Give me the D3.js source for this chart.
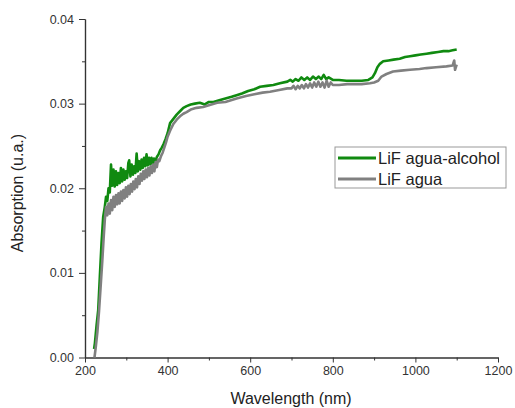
<!DOCTYPE html>
<html>
<head>
<meta charset="utf-8">
<script src="https://cdn.jsdelivr.net/npm/d3@7"></script>
<style>
  body { margin: 0; background: #fff; }
  svg { display: block; font-family: "Liberation Sans", Arial, sans-serif; }
  .axis path, .axis line { stroke: #333; }
  .axis text { fill: #333; }
</style>
</head>
<body>
<svg id="chart"></svg>
<script>
// wavelength (nm) / absorption (u.a.)
const alcoholWl = [222, 224, 228, 232, 236, 240, 244, 248, 251, 254, 257, 260, 263, 266, 269, 272, 275, 278, 281, 284,
  287, 290, 293, 296, 299, 302, 305, 307, 310, 313, 316, 319, 322, 325, 328, 331, 334, 337, 340, 343,
  346, 349, 352, 355, 358, 361, 364, 367, 370, 374, 378, 382, 386, 390, 395, 400, 406, 414, 422, 430,
  438, 446, 456, 466, 478, 490, 500, 511, 525, 540, 555, 567, 580, 595, 610, 624, 640, 656, 672, 690,
  697, 703, 710, 717, 724, 731, 738, 745, 752, 759, 766, 772, 778, 784, 790, 800, 815, 833, 850, 870,
  886, 896, 902, 908, 914, 922, 935, 947, 962, 975, 987, 1000, 1013, 1027, 1040, 1055, 1068, 1080, 1090, 1100];
const alcoholAbs = [0.0010, 0.0017, 0.0038, 0.0056, 0.0096, 0.0135, 0.0166, 0.0178, 0.0190, 0.0185, 0.0200, 0.0195, 0.0228, 0.0203, 0.0222, 0.0202, 0.0220, 0.0204, 0.0218, 0.0206,
  0.0224, 0.0208, 0.0222, 0.0210, 0.0220, 0.0212, 0.0230, 0.0233, 0.0214, 0.0228, 0.0216, 0.0226, 0.0218, 0.0241, 0.0220, 0.0232, 0.0222, 0.0234, 0.0224, 0.0236,
  0.0226, 0.0240, 0.0227, 0.0236, 0.0228, 0.0236, 0.0229, 0.0235, 0.0231, 0.0237, 0.0240, 0.0245, 0.0248, 0.0252, 0.0258, 0.0265, 0.0277, 0.0282, 0.0287, 0.0291,
  0.0295, 0.0297, 0.0299, 0.0300, 0.0301, 0.0299, 0.0302, 0.0302, 0.0304, 0.0306, 0.0308, 0.0310, 0.0312, 0.0315, 0.0317, 0.0320, 0.0321, 0.0322, 0.0324, 0.0326,
  0.0328, 0.0326, 0.0329, 0.0327, 0.0331, 0.0328, 0.0331, 0.0328, 0.0332, 0.0329, 0.0332, 0.0329, 0.0334, 0.0329, 0.0331, 0.0328, 0.0328, 0.0327, 0.0327, 0.0327,
  0.0328, 0.0331, 0.0336, 0.0343, 0.0347, 0.0350, 0.0351, 0.0352, 0.0353, 0.0355, 0.0356, 0.0357, 0.0358, 0.0359, 0.0360, 0.0361, 0.0362, 0.0362, 0.0363, 0.0364];

const aguaWl = [223, 226, 230, 234, 238, 242, 245, 248, 251, 254, 257, 260, 263, 266, 269, 272, 275, 278, 281, 284,
  287, 290, 293, 296, 299, 302, 305, 308, 311, 314, 317, 320, 323, 326, 329, 332, 335, 338, 341, 344,
  347, 350, 353, 356, 359, 362, 365, 368, 371, 374, 377, 380, 384, 388, 392, 396, 400, 406, 414, 422,
  430, 438, 446, 456, 470, 486, 500, 520, 540, 567, 590, 610, 630, 648, 670, 690, 700, 705, 710, 715,
  720, 725, 730, 735, 740, 745, 750, 755, 760, 765, 770, 775, 780, 785, 790, 795, 800, 815, 835, 850,
  870, 890, 900, 910, 918, 930, 946, 965, 987, 1010, 1027, 1050, 1075, 1090, 1094, 1096, 1100];
const aguaAbs = [0.0000, 0.0012, 0.0030, 0.0055, 0.0085, 0.0115, 0.0140, 0.0163, 0.0178, 0.0168, 0.0182, 0.0170, 0.0186, 0.0174, 0.0190, 0.0178, 0.0192, 0.0181, 0.0194, 0.0182,
  0.0196, 0.0185, 0.0198, 0.0188, 0.0201, 0.0190, 0.0203, 0.0193, 0.0205, 0.0196, 0.0208, 0.0199, 0.0211, 0.0201, 0.0214, 0.0205, 0.0217, 0.0209, 0.0220, 0.0211,
  0.0222, 0.0213, 0.0224, 0.0215, 0.0226, 0.0218, 0.0228, 0.0220, 0.0231, 0.0225, 0.0234, 0.0232, 0.0238, 0.0242, 0.0248, 0.0254, 0.0261, 0.0268, 0.0276, 0.0281,
  0.0285, 0.0288, 0.0290, 0.0293, 0.0295, 0.0296, 0.0298, 0.0301, 0.0302, 0.0306, 0.0309, 0.0311, 0.0313, 0.0314, 0.0316, 0.0318, 0.0318, 0.0321, 0.0317, 0.0321,
  0.0318, 0.0322, 0.0318, 0.0323, 0.0319, 0.0324, 0.0319, 0.0325, 0.0320, 0.0326, 0.0320, 0.0325, 0.0319, 0.0327, 0.0320, 0.0325, 0.0322, 0.0322, 0.0323, 0.0323,
  0.0323, 0.0324, 0.0325, 0.0327, 0.0332, 0.0335, 0.0338, 0.0339, 0.0340, 0.0341, 0.0342, 0.0343, 0.0344, 0.0345, 0.0351, 0.0340, 0.0346];

const seriesNames = ["LiF agua-alcohol", "LiF agua"];
const seriesColors = ["#108a10", "#808080"];

const xTicks = [200, 400, 600, 800, 1000, 1200];
const xMinor = [300, 500, 700, 900, 1100];
const yTicks = [0, 0.01, 0.02, 0.03, 0.04];
const yMinor = [0.005, 0.015, 0.025, 0.035];

const width = 515, height = 408;
const padLeft = 85, padRight = 498, padTop = 19, padBottom = 357.5;

const svg = d3.select("#chart").attr("width", width).attr("height", height);

const x = d3.scaleLinear().domain([200, 1200]).range([padLeft, padRight]);
const y = d3.scaleLinear().domain([0, 0.04]).range([padBottom, padTop]);

// minor ticks first, then the major axis over them
svg.append("g").attr("class", "axis")
  .attr("transform", "translate(0," + padBottom + ")")
  .call(d3.axisBottom(x).tickValues(xMinor).tickSize(3).tickSizeOuter(0).tickFormat(""));
svg.append("g").attr("class", "axis")
  .attr("transform", "translate(" + padLeft + ",0)")
  .call(d3.axisLeft(y).tickValues(yMinor).tickSize(3).tickSizeOuter(0).tickFormat(""));

const xAxis = svg.append("g").attr("class", "axis")
  .attr("transform", "translate(0," + padBottom + ")")
  .call(d3.axisBottom(x).tickValues(xTicks).tickSize(5).tickSizeOuter(0).tickPadding(4).tickFormat(d3.format("d")));
xAxis.selectAll("text").style("font-size", "12.5px");

const yAxis = svg.append("g").attr("class", "axis")
  .attr("transform", "translate(" + padLeft + ",0)")
  .call(d3.axisLeft(y).tickValues(yTicks).tickSize(6).tickSizeOuter(0).tickPadding(5).tickFormat(d3.format(".2f")));
yAxis.selectAll("text").style("font-size", "12.5px");

svg.selectAll(".axis path").attr("stroke-width", 1.2);

const line = d3.line()
  .x(d => x(d[0]))
  .y(d => y(d[1]));

const series = [
  d3.zip(alcoholWl, alcoholAbs),
  d3.zip(aguaWl, aguaAbs)
];

series.forEach((pts, i) => {
  svg.append("path")
    .datum(pts)
    .attr("fill", "none")
    .attr("stroke", seriesColors[i])
    .attr("stroke-width", 2.6)
    .attr("stroke-linejoin", "round")
    .attr("d", line);
});

// axis titles
svg.append("text")
  .attr("transform", "translate(23,193) rotate(-90)")
  .attr("text-anchor", "middle")
  .style("font-size", "16px")
  .attr("fill", "#222")
  .text("Absorption (u.a.)");

svg.append("text")
  .attr("x", 291)
  .attr("y", 404)
  .attr("text-anchor", "middle")
  .style("font-size", "16px")
  .attr("fill", "#222")
  .text("Wavelength (nm)");

// legend
const legend = svg.append("g").attr("transform", "translate(335,147)");
legend.append("rect")
  .attr("width", 171).attr("height", 41)
  .attr("fill", "#fff").attr("stroke", "#999").attr("stroke-width", 1);
seriesNames.forEach((name, i) => {
  const ly = 11 + i * 21;
  legend.append("line")
    .attr("x1", 3).attr("x2", 41).attr("y1", ly).attr("y2", ly)
    .attr("stroke", seriesColors[i]).attr("stroke-width", 3);
  legend.append("text")
    .attr("x", 43).attr("y", ly + 6)
    .style("font-size", "16.5px")
    .attr("fill", "#222")
    .text(name);
});
</script>
</body>
</html>
